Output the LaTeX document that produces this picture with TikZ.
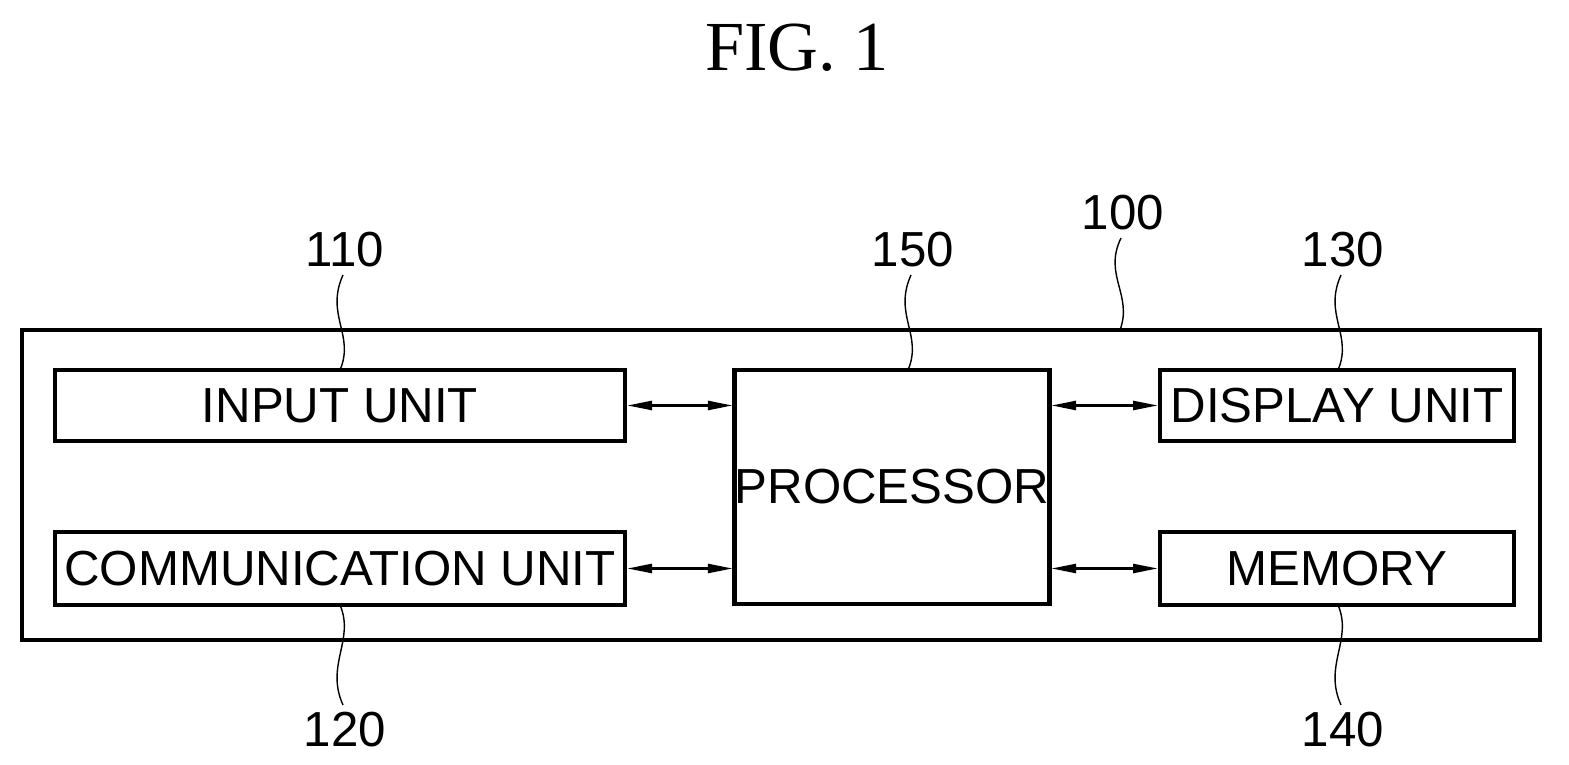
\documentclass[tikz,border=0pt]{standalone}
\usepackage{fontspec}
\setmainfont{Liberation Sans}
\newfontfamily\titlefont{Liberation Serif}
\usetikzlibrary{arrows.meta}
\begin{document}
\begin{tikzpicture}[
        x=0.01cm, y=-0.01cm,
        unit/.style={draw, line width=1.3pt, inner sep=0pt, font=\fontsize{14}{16}\selectfont},
        link/.style={{Triangle[length=7pt,width=2.6pt]}-{Triangle[length=7pt,width=2.6pt]}, line width=0.6pt},
        leader/.style={line width=0.4pt},
        refnum/.style={font=\fontsize{14}{16}\selectfont}
    ]
    \useasboundingbox (0,0) rectangle (1569,765);
    \node[font=\titlefont\fontsize{20}{24}\selectfont] (title) at (797,48) {FIG. 1};

    % Gehaeuse
    \draw[line width=1.3pt] (22,330) rectangle (1540,640);
    \coordinate (frame) at (1120,330);

    % Einheiten
    \node[unit, minimum width=5.7cm, minimum height=0.71cm] (input) at (340,405.5) {INPUT UNIT};
    \node[unit, minimum width=5.7cm, minimum height=0.73cm] (comm) at (340,568.5) {COMMUNICATION UNIT};
    \node[unit, minimum width=3.12cm, minimum height=2.34cm] (proc) at (892,487) {PROCESSOR};
    \node[unit, minimum width=3.54cm, minimum height=0.71cm] (disp) at (1337,405.5) {DISPLAY UNIT};
    \node[unit, minimum width=3.54cm, minimum height=0.73cm] (mem) at (1337,568.5) {MEMORY};

    % Verbindungen
    \draw[link] (input.east) -- (input.east -| proc.west);
    \draw[link] (comm.east) -- (comm.east -| proc.west);
    \draw[link] (disp.west -| proc.east) -- (disp.west);
    \draw[link] (mem.west -| proc.east) -- (mem.west);

    % Bezugszeichen
    \node[refnum] (n110) at (345,250) {110};
    \node[refnum] (n150) at (913,250) {150};
    \node[refnum] (n100) at (1123,213) {100};
    \node[refnum] (n130) at (1343,250) {130};
    \node[refnum] (n120) at (345,730) {120};
    \node[refnum] (n140) at (1343,730) {140};

    \draw[leader] (343,275) .. controls (325,315) and (355,335) .. (340,370);
    \draw[leader] (911,275) .. controls (893,315) and (923,335) .. (908,370);
    \draw[leader] (1121,238) .. controls (1103,275) and (1133,295) .. (frame);
    \draw[leader] (1341,275) .. controls (1323,315) and (1353,335) .. (1338,370);
    \draw[leader] (340,605) .. controls (355,640) and (325,665) .. (343,705);
    \draw[leader] (1338,605) .. controls (1353,640) and (1323,665) .. (1341,705);
\end{tikzpicture}
\end{document}
